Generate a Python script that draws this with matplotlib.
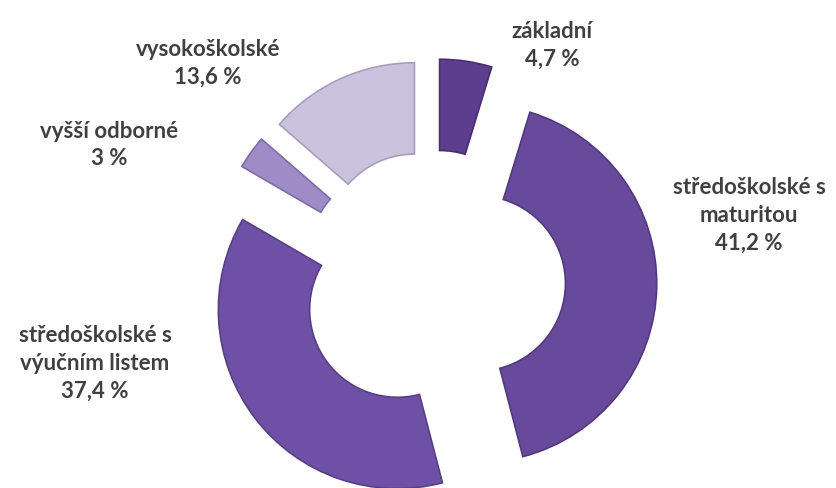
import matplotlib
matplotlib.use("Agg")
import matplotlib.pyplot as plt

labels = ["základní", "středoškolské s\nmaturitou", "středoškolské s\nvýučním listem",
          "vyšší odborné", "vysokoškolské"]
values = [4.7, 41.2, 37.4, 3.0, 13.6]
value_text = ["4,7 %", "41,2 %", "37,4 %", "3 %", "13,6 %"]

colors = ["#5c3d8e", "#684a9c", "#6e50a6", "#9d8cc6", "#cbc3de"]
edges = ["#47306f", "#52397c", "#573f85", "#7e6ca8", "#a79dc0"]

# label block centres in figure pixels (x, y from top)
label_pos = [(552, 45), (749, 215), (95, 363), (109, 145), (208, 63)]

W, H = 837, 489
fig = plt.figure(figsize=(W / 100, H / 100), dpi=100)
ax = fig.add_axes([0, 0, 1, 1])

scale = 179.0  # pixels per unit radius
cx, cy = 433.0, 283.5
wedges, _ = ax.pie(values, startangle=90, counterclock=False, radius=1.0,
                   explode=[0.25] * len(values), colors=colors,
                   wedgeprops=dict(width=0.51, linewidth=1.2))
for w, ec in zip(wedges, edges):
    w.set_edgecolor(ec)

ax.set_xlim(-cx / scale, (W - cx) / scale)
ax.set_ylim(-(H - cy) / scale, cy / scale)
ax.set_aspect("auto")
ax.axis("off")

for lab, vt, (px, py) in zip(labels, value_text, label_pos):
    fig.text(px / W, 1 - py / H, lab + "\n" + vt, ha="center", va="center",
             fontsize=16, fontweight="bold", family="Lato", color="#404040",
             linespacing=1.4)

fig.savefig("out.png", dpi=100)
